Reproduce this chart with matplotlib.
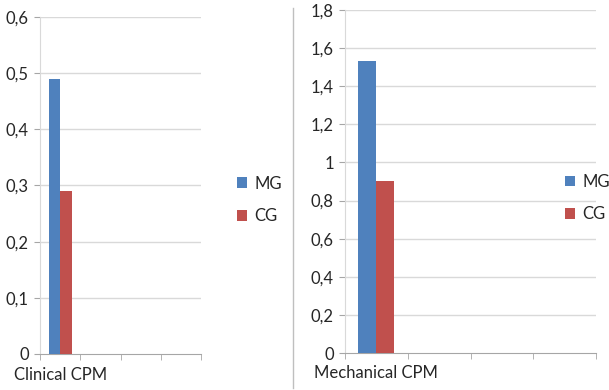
import numpy as np
import matplotlib
matplotlib.use("Agg")
import matplotlib.pyplot as plt
from matplotlib.patches import Patch
from matplotlib.lines import Line2D

plt.rcParams['font.family'] = ['Lato', 'DejaVu Sans']

series = ["MG", "CG"]
colors = ["#4F81BD", "#C0504D"]

left_categories = ["Clinical CPM", "", "", ""]
left_mg = [0.49, np.nan, np.nan, np.nan]
left_cg = [0.29, np.nan, np.nan, np.nan]
left_yticks = [0, 0.1, 0.2, 0.3, 0.4, 0.5, 0.6]
left_ylabels = ["0", "0,1", "0,2", "0,3", "0,4", "0,5", "0,6"]

right_categories = ["Mechanical CPM", "", "", ""]
right_mg = [1.53, np.nan, np.nan, np.nan]
right_cg = [0.90, np.nan, np.nan, np.nan]
right_yticks = [0, 0.2, 0.4, 0.6, 0.8, 1.0, 1.2, 1.4, 1.6, 1.8]
right_ylabels = ["0", "0,2", "0,4", "0,6", "0,8", "1", "1,2", "1,4", "1,6", "1,8"]

fig = plt.figure(figsize=(6.09, 3.90), dpi=100)

grid_c = "#D9D9D9"
axis_c = "#A6A6A6"
text_c = "#262626"
fs = 12


def panel(rect, cats, mg, cg, yticks, ylabels, legend_xy):
    ax = fig.add_axes(rect)
    n = len(cats)
    x = np.arange(n)
    w = 1 / 3.5
    ax.bar(x - w / 2, mg, width=w, color=colors[0], zorder=3)
    ax.bar(x + w / 2, cg, width=w, color=colors[1], zorder=3)
    ax.set_xlim(-0.5, n - 0.5)
    ax.set_ylim(yticks[0], yticks[-1])
    ax.set_yticks(yticks)
    ax.set_yticklabels(ylabels, fontsize=fs, color=text_c)
    ax.set_xticks(x)
    ax.set_xticklabels(cats, fontsize=fs, color=text_c)
    ax.tick_params(axis='x', length=0, pad=9)
    ax.set_xticks(np.arange(n + 1) - 0.5, minor=True)
    ax.tick_params(axis='x', which='minor', length=4, color=axis_c, direction='out')
    ax.tick_params(axis='y', length=4, color=axis_c, pad=4)
    for yv in yticks[1:]:
        ax.axhline(yv, color=grid_c, lw=1, zorder=1)
    for s in ['top', 'right']:
        ax.spines[s].set_visible(False)
    ax.spines['left'].set_color(grid_c)
    ax.spines['bottom'].set_color(axis_c)
    handles = [Patch(facecolor=c, edgecolor='none') for c in colors]
    fig.legend(handles, series, loc='center left', bbox_to_anchor=legend_xy,
               bbox_transform=fig.transFigure, frameon=False, fontsize=fs,
               handlelength=0.6, handleheight=0.6, handletextpad=0.45,
               labelspacing=1.0, labelcolor=text_c, borderpad=0, borderaxespad=0)
    return ax


panel([40 / 609, 36 / 390, 161 / 609, 337 / 390], left_categories, left_mg, left_cg,
      left_yticks, left_ylabels, (237 / 609, 1 - 200 / 390))
panel([345 / 609, 37 / 390, 251 / 609, 343 / 390], right_categories, right_mg, right_cg,
      right_yticks, right_ylabels, (565 / 609, 1 - 198 / 390))

fig.add_artist(Line2D([293 / 609, 293 / 609], [1 - 8 / 390, 1 - 388 / 390],
                      transform=fig.transFigure, color="#BFBFBF", lw=1))

fig.savefig("out.png", dpi=100)
